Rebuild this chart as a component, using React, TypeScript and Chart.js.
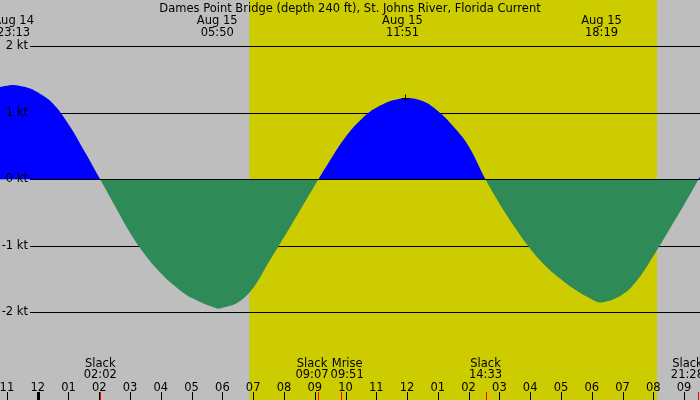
import { useEffect, useRef } from 'react'
import { Chart, registerables } from 'chart.js'

Chart.register(...registerables);

// hours relative to midnight Aug 15, current speed in knots
const hours = [
  -1.225, -1, -0.783, -0.25, 0, 0.5, 1, 1.5, 2.033, 2.5, 3, 3.5, 4, 4.5, 5, 5.833, 6, 6.5, 7, 7.5, 8, 8.5, 9, 9.117,
  9.5, 10, 10.5, 11, 11.85, 12.5, 13, 13.5, 14, 14.55, 15, 15.5, 16, 16.5, 17, 17.5, 18, 18.317, 19, 19.5, 20, 20.5,
  21, 21.467, 21.517,
];
const speeds = [
  1.39, 1.41, 1.42, 1.37, 1.31, 1.14, 0.83, 0.44, 0, -0.39, -0.8, -1.14, -1.41, -1.62, -1.78, -1.94, -1.93, -1.85, -1.63, -1.25, -0.87, -0.48, -0.09, 0,
  0.29, 0.64, 0.9, 1.08, 1.22, 1.18, 1.03, 0.8, 0.5, 0, -0.36, -0.72, -1.04, -1.3, -1.5, -1.67, -1.8, -1.85, -1.73, -1.5, -1.15, -0.77,
  -0.38, 0, 0.04,
];

const title = 'Dames Point Bridge (depth 240 ft), St. Johns River, Florida Current';

// max flood / max ebb labels along the top
const peakHours = [-0.783, 5.833, 11.85, 18.317];
const peakDates = ['Aug 14', 'Aug 15', 'Aug 15', 'Aug 15'];
const peakTimes = ['23:13', '05:50', '11:51', '18:19'];

// slack / moon events along the bottom
const eventHours = [2.033, 9.117, 9.85, 14.55, 21.467];
const eventNames = ['Slack', 'Slack', 'Mrise', 'Slack', 'Slack'];
const eventTimes = ['02:02', '09:07', '09:51', '14:33', '21:28'];

const hourTicks = [-1, 0, 1, 2, 3, 4, 5, 6, 7, 8, 9, 10, 11, 12, 13, 14, 15, 16, 17, 18, 19, 20, 21];
const hourLabels = ['11', '12', '01', '02', '03', '04', '05', '06', '07', '08', '09', '10', '11', '12', '01', '02', '03', '04', '05', '06', '07', '08', '09'];

const knotLines = [2, 1, 0, -1, -2];
const knotLabels = ['2 kt', '1 kt', '0 kt', '-1 kt', '-2 kt'];

const daylight = [6.875, 20.12]; // sunrise, sunset
const marker = [{ x: 11.93, y: 1.23 }];

const FONT = '11.5px "DejaVu Sans"';

const tideDecor = {
  id: 'tideDecor',
  beforeDraw(chart: Chart) {
    const { ctx, width, height } = chart;
    const x = chart.scales.x, y = chart.scales.y;
    ctx.save();
    ctx.fillStyle = '#bebebe';
    ctx.fillRect(0, 0, width, height);
    const sx0 = x.getPixelForValue(daylight[0]);
    const sx1 = x.getPixelForValue(daylight[1]);
    ctx.fillStyle = '#cccc00';
    ctx.fillRect(sx0, 0, sx1 - sx0, height);
    ctx.strokeStyle = '#000';
    ctx.lineWidth = 1;
    knotLines.forEach(k => {
      if (k === 0) return;
      const py = Math.round(y.getPixelForValue(k)) + 0.5;
      ctx.beginPath();
      ctx.moveTo(30, py);
      ctx.lineTo(width, py);
      ctx.stroke();
    });
    ctx.restore();
  },
  afterDatasetsDraw(chart: Chart) {
    const { ctx, width, height } = chart;
    const x = chart.scales.x, y = chart.scales.y;
    ctx.save();
    ctx.strokeStyle = '#000';
    ctx.lineWidth = 1;
    const zy = Math.round(y.getPixelForValue(0)) + 0.5;
    ctx.beginPath();
    ctx.moveTo(30, zy);
    ctx.lineTo(width, zy);
    ctx.stroke();

    // crisp "+" on the marker point
    chart.getDatasetMeta(1).data.forEach(pt => {
      const mx = Math.round(pt.x) + 0.5, my = Math.round(pt.y) + 0.5;
      ctx.beginPath();
      ctx.moveTo(mx - 4, my);
      ctx.lineTo(mx + 4, my);
      ctx.moveTo(mx, my - 4);
      ctx.lineTo(mx, my + 4);
      ctx.stroke();
    });

    ctx.font = FONT;
    ctx.fillStyle = '#000';
    ctx.textBaseline = 'middle';
    ctx.textAlign = 'right';
    knotLines.forEach((k, i) => {
      ctx.fillText(knotLabels[i], 28, Math.round(y.getPixelForValue(k)) + 0.5);
    });

    ctx.textBaseline = 'alphabetic';
    ctx.textAlign = 'center';
    ctx.fillText(title, width / 2, 11.5);
    peakHours.forEach((h, i) => {
      const px = x.getPixelForValue(h);
      ctx.fillText(peakDates[i], px, 23.5);
      ctx.fillText(peakTimes[i], px, 36);
    });

    // bottom event labels, pushed apart where they collide
    const boxes = eventHours.map((h, i) => {
      const w = Math.max(ctx.measureText(eventNames[i]).width, ctx.measureText(eventTimes[i]).width);
      return { c: x.getPixelForValue(h), w };
    });
    for (let i = 1; i < boxes.length; i++) {
      const a = boxes[i - 1], b = boxes[i];
      const overlap = (a.c + a.w / 2 + 2) - (b.c - b.w / 2);
      if (overlap > 0) { a.c -= overlap / 2; b.c += overlap / 2; }
    }
    boxes.forEach(b => { if (b.c + b.w / 2 > width + 4) b.c = width + 4 - b.w / 2; });
    boxes.forEach((b, i) => {
      ctx.fillText(eventNames[i], b.c, 366.5);
      ctx.fillText(eventTimes[i], b.c, 378);
    });

    hourTicks.forEach((h, i) => {
      const px = x.getPixelForValue(h);
      ctx.fillText(hourLabels[i], px, 390.5);
      const w = h === 0 ? 3 : 1;
      ctx.fillRect(Math.round(px) - Math.floor(w / 2), 392, w, height - 392);
    });
    ctx.fillStyle = '#ff0000';
    eventHours.forEach(h => {
      const px = x.getPixelForValue(h);
      ctx.fillRect(Math.round(px), 392, 1, height - 392);
    });
    ctx.restore();
  },
};

export default function App() {
  const canvasRef = useRef<HTMLCanvasElement>(null);
  const chartRef = useRef<Chart | null>(null);

  useEffect(() => {
    document.body.style.margin = '0';
    if (!canvasRef.current) return;
    chartRef.current?.destroy();
    chartRef.current = new Chart(canvasRef.current, {
      type: 'line',
      data: {
        datasets: [
          {
            label: 'Current',
            data: hours.map((h, i) => ({ x: h, y: speeds[i] })),
            borderColor: 'rgba(0,0,0,0)',
            borderWidth: 0,
            pointRadius: 0,
            tension: 0.4,
            fill: { target: 'origin', above: '#0000ff', below: '#2e8b57' },
          },
          {
            type: 'scatter',
            label: 'Now',
            data: marker,
            pointRadius: 0,
          },
        ],
      },
      options: {
        animation: false,
        responsive: true,
        maintainAspectRatio: false,
        layout: { padding: 0, autoPadding: false },
        plugins: { legend: { display: false }, tooltip: { enabled: false } },
        scales: {
          x: { type: 'linear', display: false, min: -1.2248, max: 21.517 },
          y: { type: 'linear', display: false, min: -3.316, max: 2.699 },
        },
      },
      plugins: [tideDecor],
    });
    return () => {
      chartRef.current?.destroy();
      chartRef.current = null;
    };
  }, []);

  return (
    <div style={{ width: 700, height: 400, position: 'relative' }}>
      <canvas ref={canvasRef} />
    </div>
  );
}
